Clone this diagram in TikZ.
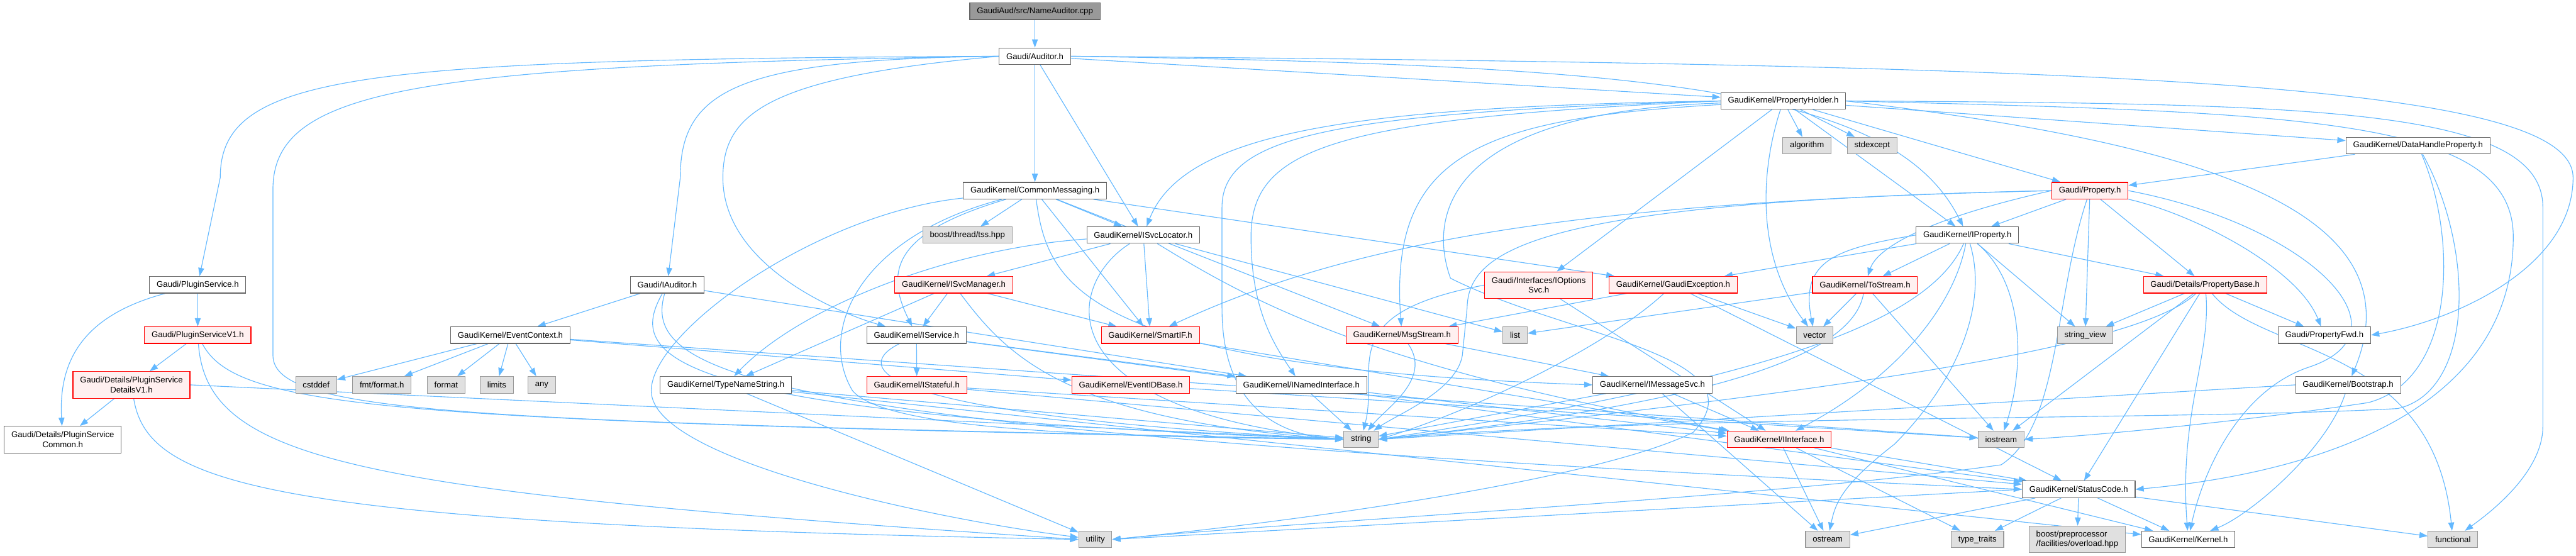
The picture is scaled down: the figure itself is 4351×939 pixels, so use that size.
\documentclass[tikz,border=0pt]{standalone}
\usepackage{fontspec}
\setmainfont{Liberation Sans}
\usepackage{tikz}
\usetikzlibrary{arrows.meta,backgrounds}
\definecolor{edgeblue}{HTML}{63B8FF}
\definecolor{bordergray}{HTML}{666666}
\definecolor{sysgray}{HTML}{999999}
\definecolor{sysfill}{HTML}{E0E0E0}
\definecolor{cutfill}{HTML}{FFF0F0}
\tikzset{
  hdr/.style={
    rectangle, draw=bordergray, fill=white, line width=1.2pt,
    minimum height=28pt, inner xsep=12pt, inner ysep=3pt,
    font=\fontsize{14}{16.7}\selectfont, align=center
  },
  cuthdr/.style={hdr, draw=red, fill=cutfill},
  syshdr/.style={hdr, draw=sysgray, fill=sysfill},
  srcfile/.style={hdr, fill=sysgray},
  twoline/.style={minimum height=45pt},
  incl/.style={
    -{Triangle[length=14pt,width=10pt]}, draw=edgeblue, line width=1.2pt
  },
}

\begin{document}
\begin{tikzpicture}[x=1pt, y=-1pt]
  \useasboundingbox (0,0) rectangle (4351,939);
  % upper rows
  \node[srcfile] (root) at (1748,19) {GaudiAud/src/NameAuditor.cpp};
  \node[hdr] (aud) at (1748,95) {Gaudi/Auditor.h};
  \node[hdr] (propholder) at (3012,170.5) {GaudiKernel/PropertyHolder.h};
  \node[syshdr] (algorithm) at (3052,246) {algorithm};
  \node[syshdr] (stdexcept) at (3162,246) {stdexcept};
  \node[hdr] (dhprop) at (4084,246) {GaudiKernel/DataHandleProperty.h};
  \node[hdr] (cmsg) at (1748,322) {GaudiKernel/CommonMessaging.h};
  \node[cuthdr] (property) at (3530,322) {Gaudi/Property.h};
  \node[syshdr] (tss) at (1634,397) {boost/thread/tss.hpp};
  \node[hdr] (svcloc) at (1931,397) {GaudiKernel/ISvcLocator.h};
  \node[hdr] (iproperty) at (3323,397) {GaudiKernel/IProperty.h};
  % middle rows
  \node[hdr] (plugin) at (334,481) {Gaudi/PluginService.h};
  \node[hdr] (iaud) at (1127,481) {Gaudi/IAuditor.h};
  \node[cuthdr] (svcmgr) at (1611,481) {GaudiKernel/ISvcManager.h};
  \node[cuthdr, twoline] (ioptsvc) at (2599,481.5) {Gaudi/Interfaces/IOptions\\Svc.h};
  \node[cuthdr] (gexc) at (2826,481) {GaudiKernel/GaudiException.h};
  \node[cuthdr] (tostream) at (3150,481) {GaudiKernel/ToStream.h};
  \node[cuthdr] (propbase) at (3724.5,481) {Gaudi/Details/PropertyBase.h};
  \node[cuthdr] (pluginv1) at (334,566) {Gaudi/PluginServiceV1.h};
  \node[hdr] (evctx) at (862,566) {GaudiKernel/EventContext.h};
  \node[hdr] (isvc) at (1548,566) {GaudiKernel/IService.h};
  \node[cuthdr] (smartif) at (1943,566) {GaudiKernel/SmartIF.h};
  \node[cuthdr] (msgstream) at (2368,566) {GaudiKernel/MsgStream.h};
  \node[syshdr] (list) at (2559,566) {list};
  \node[syshdr] (vector) at (3065,566) {vector};
  \node[syshdr] (strview) at (3522,566) {string\_view};
  \node[hdr] (propfwd) at (3926,566) {Gaudi/PropertyFwd.h};
  \node[cuthdr, twoline] (detailsv1) at (222,650) {Gaudi/Details/PluginService\\DetailsV1.h};
  \node[syshdr] (cstddef) at (534,650) {cstddef};
  \node[syshdr] (fmtformat) at (645,650) {fmt/format.h};
  \node[syshdr] (format) at (753.5,650) {format};
  \node[syshdr] (limits) at (839,650) {limits};
  \node[syshdr] (any) at (915,650) {any};
  \node[hdr] (typename) at (1226,650) {GaudiKernel/TypeNameString.h};
  \node[cuthdr] (istateful) at (1548.5,650) {GaudiKernel/IStateful.h};
  \node[cuthdr] (evidbase) at (1910,650) {GaudiKernel/EventIDBase.h};
  \node[hdr] (inamed) at (2198,650) {GaudiKernel/INamedInterface.h};
  \node[hdr] (imsgsvc) at (2791,650) {GaudiKernel/IMessageSvc.h};
  \node[hdr] (bootstrap) at (3966,650) {GaudiKernel/Bootstrap.h};
  % lower rows
  \node[hdr, twoline] (pscommon) at (106,742.5) {Gaudi/Details/PluginService\\Common.h};
  \node[syshdr] (string) at (2299,742) {string};
  \node[cuthdr] (iinterface) at (3005,742) {GaudiKernel/IInterface.h};
  \node[syshdr] (iostream) at (3380,742) {iostream};
  \node[hdr] (statuscode) at (3511,826.5) {GaudiKernel/StatusCode.h};
  \node[syshdr] (utility) at (1850,911) {utility};
  \node[syshdr] (ostream) at (3087,911) {ostream};
  \node[syshdr] (typetraits) at (3340,911) {type\_traits};
  \node[syshdr, twoline, align=left] (boostpp) at (3508.5,911) {boost/preprocessor\\/facilities/overload.hpp};
  \node[hdr] (kernel) at (3696,911) {GaudiKernel/Kernel.h};
  \node[syshdr] (functional) at (4143,911) {functional};

  \begin{scope}[on background layer]
    \draw[incl] (root) -- (aud);
    % Auditor.h
    \draw[incl] (aud.west) .. controls (600,100) and (372,125) .. (372,300) -- (plugin);
    \draw[incl] (aud.west) .. controls (700,110) and (461,150) .. (461,320) -- (461,600) .. controls (461,700) and (800,712) .. (string.west);
    \draw[incl] (aud.west) .. controls (1250,100) and (1149,150) .. (1149,300) -- (iaud);
    \draw[incl] (aud.west) .. controls (1300,130) and (1221,190) .. (1221,300) .. controls (1221,450) and (1420,530) .. (isvc);
    \draw[incl] (aud) -- (cmsg);
    \draw[incl] (aud) -- (svcloc);
    \draw[incl] (aud) -- (propholder);
    \draw[incl] (aud.east) .. controls (2800,110) and (3200,150) .. (iproperty);
    \draw[incl] (aud.east) .. controls (3600,110) and (4346,140) .. (4346,300) .. controls (4346,450) and (4150,540) .. (propfwd.east);
    % plugin service
    \draw[incl] (plugin) -- (pluginv1);
    \draw[incl] (plugin) .. controls (150,530) and (98,600) .. (pscommon);
    \draw[incl] (pluginv1) -- (detailsv1);
    \draw[incl] (pluginv1) .. controls (400,690) and (650,712) .. (string.west);
    \draw[incl] (pluginv1) .. controls (350,780) and (600,830) .. (utility.west);
    \draw[incl] (detailsv1) -- (pscommon);
    \draw[incl] (detailsv1.east) -- (string.west);
    \draw[incl] (detailsv1) .. controls (250,820) and (450,885) .. (utility.west);
    % IAuditor.h and EventContext.h
    \draw[incl] (iaud) -- (evctx);
    \draw[incl] (iaud) -- (inamed);
    \draw[incl] (iaud) .. controls (1060,600) and (1100,700) .. (string.west);
    \draw[incl] (iaud) .. controls (1080,640) and (1300,730) .. (statuscode.west);
    \foreach \dst in {cstddef,fmtformat,format,limits,any,evidbase,iostream}
      \draw[incl] (evctx) -- (\dst);
    % CommonMessaging.h
    \foreach \dst in {tss,svcloc,smartif,gexc,msgstream}
      \draw[incl] (cmsg) -- (\dst);
    \draw[incl] (cmsg) .. controls (1770,480) and (1820,620) .. (imsgsvc.west);
    \draw[incl] (cmsg) .. controls (1380,360) and (1100,560) .. (1100,660) .. controls (1100,780) and (1600,880) .. (utility);
    \draw[incl] (cmsg) .. controls (1450,400) and (1380,560) .. (1440,660) .. controls (1500,730) and (1900,738) .. (string.west);
    \draw[incl] (cmsg) .. controls (1520,390) and (1490,450) .. (isvc);
    % ISvcLocator.h, ISvcManager.h, IService.h
    \draw[incl] (svcloc) .. controls (1600,420) and (1350,520) .. (typename);
    \draw[incl] (svcloc) -- (svcmgr);
    \draw[incl] (svcloc) .. controls (1800,480) and (1760,690) .. (string.west);
    \draw[incl] (svcloc) -- (smartif);
    \draw[incl] (svcloc) .. controls (2100,500) and (2300,620) .. (iinterface);
    \draw[incl] (svcloc) -- (list);
    \foreach \dst in {typename,isvc,smartif}
      \draw[incl] (svcmgr) -- (\dst);
    \draw[incl] (svcmgr) .. controls (1700,600) and (1800,710) .. (string.west);
    \foreach \dst in {istateful,inamed,statuscode}
      \draw[incl] (isvc) -- (\dst);
    \draw[incl] (isvc) .. controls (1440,620) and (1460,700) .. (string.west);
    \draw[incl] (istateful) -- (iinterface);
    \draw[incl] (istateful) -- (statuscode);
    \draw[incl] (evidbase) -- (iostream);
    \draw[incl] (inamed) -- (string);
    \draw[incl] (inamed) -- (iinterface);
    \foreach \dst in {string,utility,kernel}
      \draw[incl] (typename) -- (\dst);
    \draw[incl] (smartif) -- (iinterface);
    % messaging
    \draw[incl] (msgstream) .. controls (2420,640) and (2340,690) .. (string);
    \draw[incl] (msgstream) -- (imsgsvc);
    \foreach \dst in {string,iinterface,ostream}
      \draw[incl] (imsgsvc) -- (\dst);
    \draw[incl] (ioptsvc.west) .. controls (2250,530) and (2330,620) .. (string);
    \draw[incl] (ioptsvc) -- (iinterface);
    \draw[incl] (gexc) -- (msgstream);
    \draw[incl] (gexc) .. controls (2720,580) and (2500,690) .. (string.east);
    \draw[incl] (gexc) -- (statuscode);
    \draw[incl] (gexc) -- (vector);
    % PropertyHolder.h
    \draw[incl] (propholder.west) .. controls (2300,180) and (2000,220) .. (svcloc);
    \draw[incl] (propholder.west) .. controls (2250,190) and (2064,230) .. (2064,350) -- (2064,520) .. controls (2064,680) and (2150,735) .. (string.west);
    \draw[incl] (propholder.west) .. controls (2250,200) and (2113,250) .. (2113,400) .. controls (2113,520) and (2150,580) .. (inamed);
    \draw[incl] (propholder) .. controls (2500,200) and (2345,260) .. (msgstream);
    \draw[incl] (propholder) .. controls (2420,190) and (2417,380) .. (2450,470) .. controls (2650,570) and (2980,600) .. (2860,730) .. controls (2700,810) and (2200,880) .. (utility.east);
    \draw[incl] (propholder) .. controls (2970,300) and (2970,440) .. (vector);
    \foreach \dst in {ioptsvc,algorithm,stdexcept,property,iproperty,dhprop}
      \draw[incl] (propholder) -- (\dst);
    \draw[incl] (propholder.east) .. controls (3700,240) and (4090,350) .. (bootstrap);
    \draw[incl] (propholder.east) .. controls (3900,175) and (4295,180) .. (4295,350) -- (4295,720) .. controls (4295,800) and (4200,870) .. (functional);
    \draw[incl] (propholder.east) .. controls (3900,190) and (4245,200) .. (4245,400) .. controls (4245,700) and (3900,800) .. (statuscode.east);
    % Property.h
    \draw[incl] (property.west) .. controls (3250,370) and (3170,420) .. (tostream);
    \foreach \dst in {iproperty,strview,propbase}
      \draw[incl] (property) -- (\dst);
    \draw[incl] (property) .. controls (3700,360) and (3880,450) .. (propfwd);
    \draw[incl] (property.east) .. controls (3900,380) and (4080,560) .. (3900,620) .. controls (3780,660) and (3720,800) .. (kernel);
    \draw[incl] (property) .. controls (3470,500) and (3480,720) .. (3380,785) .. controls (3000,840) and (2200,880) .. (utility.east);
    \draw[incl] (property.west) .. controls (2600,340) and (2480,420) .. (2478,520) -- (2470,600) .. controls (2460,660) and (2360,700) .. (string);
    \draw[incl] (property.west) .. controls (2700,340) and (2300,400) .. (smartif);
    % IProperty.h
    \foreach \dst in {gexc,tostream,strview,propbase}
      \draw[incl] (iproperty) -- (\dst);
    \draw[incl] (iproperty.west) .. controls (3100,420) and (3040,440) .. (vector);
    \draw[incl] (iproperty) .. controls (3260,540) and (3000,640) .. (string.east);
    \draw[incl] (iproperty) .. controls (3300,520) and (3200,640) .. (iinterface);
    \draw[incl] (iproperty) .. controls (3360,520) and (3300,650) .. (3200,750) .. controls (3110,820) and (3100,850) .. (ostream);
    \draw[incl] (iproperty) .. controls (3420,480) and (3420,620) .. (iostream);
    % ToStream.h
    \foreach \dst in {list,vector,iostream}
      \draw[incl] (tostream) -- (\dst);
    \draw[incl] (tostream) .. controls (3130,600) and (2900,680) .. (string.east);
    % IInterface.h and StatusCode.h
    \foreach \dst in {ostream,typetraits,statuscode,kernel}
      \draw[incl] (iinterface) -- (\dst);
    \foreach \dst in {ostream,typetraits,boostpp,kernel,functional}
      \draw[incl] (statuscode) -- (\dst);
    \draw[incl] (statuscode.west) -- (utility.east);
    % PropertyBase.h
    \foreach \dst in {strview,iostream,statuscode,propfwd}
      \draw[incl] (propbase) -- (\dst);
    \draw[incl] (propbase) .. controls (3620,580) and (3200,650) .. (string.east);
    \draw[incl] (propbase) .. controls (3735,600) and (3680,700) .. (kernel);
    \draw[incl] (propbase) .. controls (3820,600) and (4110,580) .. (functional);
    % DataHandleProperty.h and Bootstrap.h
    \draw[incl] (dhprop) -- (property);
    \draw[incl] (dhprop) .. controls (4150,400) and (4150,640) .. (4000,680) .. controls (3800,710) and (3550,735) .. (iostream.east);
    \draw[incl] (dhprop) .. controls (4180,420) and (4180,660) .. (4050,690) .. controls (3700,710) and (2800,700) .. (string.east);
    \draw[incl] (bootstrap) .. controls (3930,760) and (3800,870) .. (kernel);
    \draw[incl] (bootstrap.west) -- (string.east);
  \end{scope}
\end{tikzpicture}
\end{document}
